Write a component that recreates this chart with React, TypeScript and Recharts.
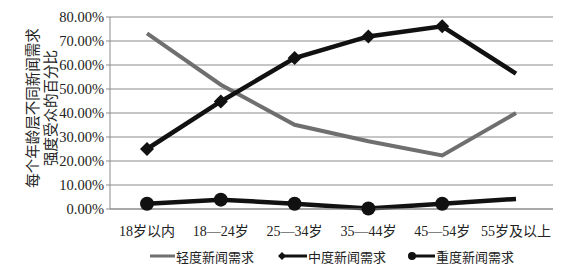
import React from "react";
import { LineChart, Line, XAxis, YAxis, CartesianGrid, Legend } from "recharts";

const ageGroups = ["18岁以内", "18—24岁", "25—34岁", "35—44岁", "45—54岁", "55岁及以上"];
const lightNeed = [73.2, 51.8, 35.1, 28.2, 22.3, 40.0];
const mediumNeed = [25.0, 44.8, 62.9, 71.9, 76.1, 56.4];
const heavyNeed = [2.2, 3.9, 2.2, 0.2, 2.2, 4.2];
const yTicks = [0, 10, 20, 30, 40, 50, 60, 70, 80];
const seriesNames = ["轻度新闻需求", "中度新闻需求", "重度新闻需求"];
const yTitle = ["每个年龄层不同新闻需求", "强度受众的百分比"];

const data = ageGroups.map((name, i) => ({
  name,
  light: lightNeed[i],
  medium: mediumNeed[i],
  heavy: heavyNeed[i],
}));

const FONT = '"Liberation Serif", "Times New Roman", "DejaVu Serif", "Noto Sans CJK SC", serif';

const Diamond = (props: any) => {
  const { cx, cy, index } = props;
  if (index === ageGroups.length - 1 || cx == null) return null;
  const r = 7;
  return (
    <path
      key={`d-${index}`}
      d={`M${cx},${cy - r} L${cx + r},${cy} L${cx},${cy + r} L${cx - r},${cy} Z`}
      fill="#111"
    />
  );
};

const Circle = (props: any) => {
  const { cx, cy, index } = props;
  if (index === ageGroups.length - 1 || cx == null) return null;
  return <circle key={`c-${index}`} cx={cx} cy={cy} r={7} fill="#111" />;
};

const LegendContent = () => (
  <div style={{ position: "relative", width: 581, height: 20, fontFamily: FONT, fontSize: 13, color: "#222" }}>
    <svg width={581} height={20} style={{ position: "absolute", left: 0, top: 0 }}>
      <line x1={150} y1={10} x2={175} y2={10} stroke="#6f6f6f" strokeWidth={3} />
      <line x1={280} y1={10} x2={307} y2={10} stroke="#111" strokeWidth={3} />
      <path d="M282,6 L286,10 L282,14 L278,10 Z" fill="#111" />
      <line x1={410} y1={10} x2={435} y2={10} stroke="#111" strokeWidth={3} />
      <circle cx={412} cy={10} r={4} fill="#111" />
    </svg>
    <span style={{ position: "absolute", left: 176, top: 1 }}>{seriesNames[0]}</span>
    <span style={{ position: "absolute", left: 308, top: 1 }}>{seriesNames[1]}</span>
    <span style={{ position: "absolute", left: 436, top: 1 }}>{seriesNames[2]}</span>
  </div>
);

export default function App() {
  return (
    <div style={{ position: "relative", width: 581, height: 269, background: "#fff", fontFamily: FONT }}>
      <style>{`body{margin:0;}`}</style>
      <LineChart
        width={581}
        height={269}
        data={data}
        margin={{ top: 17, right: 28, left: 0, bottom: 0 }}
        style={{ fontFamily: FONT }}
      >
        <CartesianGrid vertical={false} stroke="#8c8c8c" strokeWidth={1} />
        <XAxis
          dataKey="name"
          height={60}
          padding={{ left: 37, right: 37 }}
          axisLine={{ stroke: "#8c8c8c" }}
          tickLine={false}
          tickMargin={11}
          tick={{ fill: "#222", fontSize: 14, fontFamily: FONT }}
          interval={0}
        />
        <YAxis
          width={110}
          domain={[0, 80]}
          ticks={yTicks}
          interval={0}
          axisLine={{ stroke: "#8c8c8c" }}
          tickLine={{ stroke: "#8c8c8c" }}
          tickSize={4}
          tick={{ fill: "#222", fontSize: 14.5, fontFamily: FONT }}
          tickFormatter={(v: number) => `${v.toFixed(2)}%`}
        />
        <Legend
          verticalAlign="middle"
          align="center"
          wrapperStyle={{ left: 0, top: 246, width: 581 }}
          content={<LegendContent />}
        />
        <Line
          dataKey="light"
          name={seriesNames[0]}
          stroke="#6f6f6f"
          strokeWidth={4}
          dot={false}
          isAnimationActive={false}
        />
        <Line
          dataKey="medium"
          name={seriesNames[1]}
          stroke="#111"
          strokeWidth={4.5}
          dot={<Diamond />}
          isAnimationActive={false}
        />
        <Line
          dataKey="heavy"
          name={seriesNames[2]}
          stroke="#111"
          strokeWidth={4.5}
          dot={<Circle />}
          isAnimationActive={false}
        />
      </LineChart>
      <div
        style={{
          position: "absolute",
          left: 42,
          top: 108,
          transform: "translate(-50%, -50%) rotate(-90deg)",
          whiteSpace: "nowrap",
          textAlign: "center",
          fontSize: 14.5,
          lineHeight: "18px",
          color: "#222",
        }}
      >
        {yTitle[0]}
        <br />
        {yTitle[1]}
      </div>
    </div>
  );
}
